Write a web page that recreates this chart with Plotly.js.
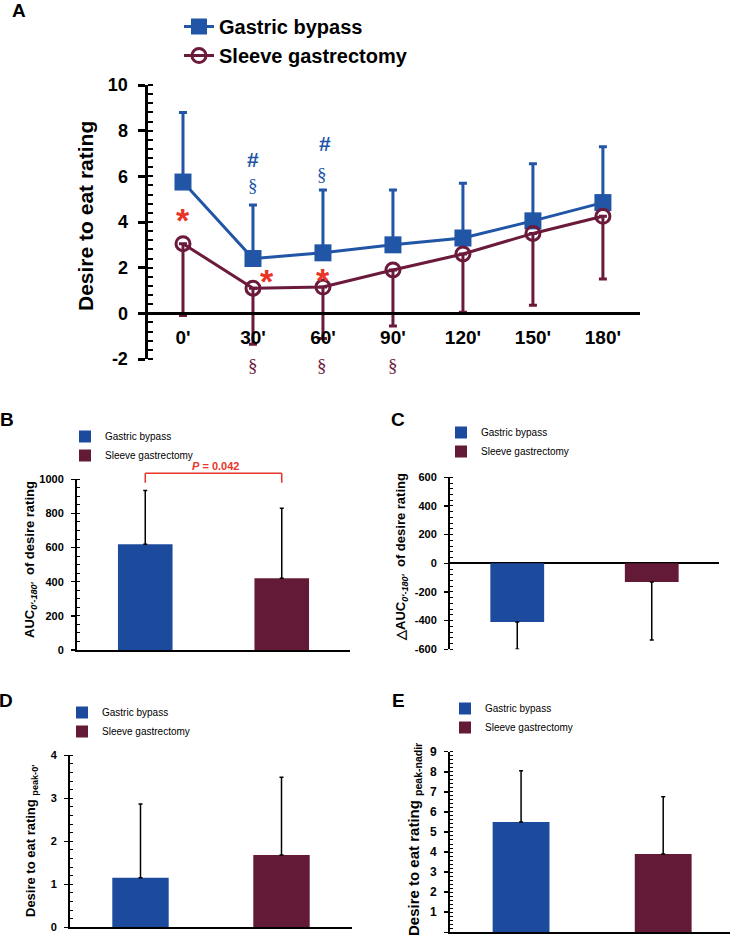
<!DOCTYPE html>
<html><head><meta charset="utf-8">
<script src="https://cdn.plot.ly/plotly-3.0.1.min.js"></script>
<style>html,body{margin:0;padding:0;background:#fff}#chart{width:736px;height:938px}</style>
</head><body><div id="chart"></div>
<script>
// ---- Panel A: desire to eat rating over time ----
const timeLabels = ["0'", "30'", "60'", "90'", "120'", "150'", "180'"];
const gbMean = [5.75, 2.4, 2.65, 3.0, 3.3, 4.05, 4.85];
const gbSD   = [3.05, 2.35, 2.75, 2.4, 2.4, 2.5, 2.45];
const sgMean = [3.05, 1.1, 1.15, 1.9, 2.6, 3.5, 4.25];
const sgSD   = [3.15, 2.45, 2.25, 2.45, 2.55, 3.15, 2.75];
const aTickVals = [-2, 0, 2, 4, 6, 8, 10];
const aTickText = ["-2", "0", "2", "4", "6", "8", "10"];

// ---- Panels B-E: group summaries ----
const groups = ["Gastric bypass", "Sleeve gastrectomy"];
const aucMean = [620, 420];          const aucSD = [315, 410];
const dAucMean = [-410, -130];       const dAucSD = [190, 405];
const cTickVals = [-600, -400, -200, 0, 200, 400, 600];
const cTickText = ["-600", "-400", "-200", "0", "200", "400", "600"];
const peak0Mean = [1.15, 1.68];      const peak0SD = [1.72, 1.81];
const peakNadirMean = [5.5, 3.9];    const peakNadirSD = [2.55, 2.85];
const pValueText = "<i>P</i> = 0.042";

const W = 736, H = 938;
const X = px => px / W;
const Y = py => 1 - py / H;
const FONT = 'Arial, "Liberation Sans", sans-serif';
const SERIF = '"Liberation Serif", "Times New Roman", serif';
const BLUE = '#2155a6', MAROON = '#6b1a3c';
const BAR_BLUE = '#1c4b9d', BAR_MAROON = '#621a36';
const RED = '#e8352a';

const traces = [];
traces.push({
  type: 'scatter', mode: 'lines+markers', x: timeLabels, y: gbMean, name: groups[0],
  xaxis: 'x', yaxis: 'y', legend: 'legend', cliponaxis: false,
  line: {color: BLUE, width: 3},
  marker: {symbol: 'square', size: 17, color: BLUE},
  error_y: {type: 'data', symmetric: false, array: gbSD, arrayminus: gbSD.map(() => 0),
            color: BLUE, thickness: 3, width: 4}
});
traces.push({
  type: 'scatter', mode: 'lines+markers', x: timeLabels, y: sgMean, name: groups[1],
  xaxis: 'x', yaxis: 'y', legend: 'legend', cliponaxis: false,
  line: {color: MAROON, width: 3},
  marker: {symbol: 'circle-open', size: 14, color: MAROON, line: {width: 3, color: MAROON}},
  error_y: {type: 'data', symmetric: false, array: sgSD.map(() => 0), arrayminus: sgSD,
            color: MAROON, thickness: 3, width: 4}
});

function addBars(mean, sd, idx, down) {
  const colors = [BAR_BLUE, BAR_MAROON];
  for (let i = 0; i < 2; i++) {
    traces.push({
      type: 'bar', x: [groups[i]], y: [mean[i]], name: groups[i], width: 0.4,
      xaxis: 'x' + idx, yaxis: 'y' + idx, legend: 'legend' + idx,
      marker: {color: colors[i], line: {width: 0}},
      error_y: {type: 'data', symmetric: false,
                array: down ? [0] : [sd[i]], arrayminus: down ? [sd[i]] : [0],
                color: 'black', thickness: 1.5, width: 2}
    });
  }
}
addBars(aucMean, aucSD, 2, false);
addBars(dAucMean, dAucSD, 3, true);
addBars(peak0Mean, peak0SD, 4, false);
addBars(peakNadirMean, peakNadirSD, 5, false);

function yAx(domain, range, dtick, minor, size, lw, anchor) {
  return {
    domain, range, dtick, tick0: 0, anchor, showline: true, linewidth: lw, linecolor: 'black',
    ticks: 'outside', ticklen: lw > 2 ? 7 : 4, tickwidth: lw > 2 ? 3 : 1.5, tickcolor: 'black',
    ticklabelstandoff: lw > 2 ? 6 : 5,
    minor: {dtick: minor, tick0: 0, ticks: 'inside', ticklen: lw > 2 ? 5 : 3, tickwidth: lw > 2 ? 2 : 1, tickcolor: 'black'},
    tickfont: {family: FONT, size, color: 'black', weight: 'bold'},
    showgrid: false, zeroline: false, fixedrange: true
  };
}
function xAx(domain, range, anchor, showline) {
  return {domain, range, anchor, type: 'category', showline, linewidth: 2, linecolor: 'black',
          ticks: '', showticklabels: false, showgrid: false, zeroline: false, fixedrange: true};
}

const legFont = {family: FONT, size: 10, color: 'black'};
const yA = yAx([Y(359), Y(85)], [-2, 10], 2, 0.4, 18, 3.5, 'x');
Object.assign(yA, {tickmode: 'array', tickvals: aTickVals, ticktext: aTickText});
const yC = yAx([Y(649.3), Y(477.3)], [-600, 600], 200, 40, 11, 2, 'x3');
Object.assign(yC, {tickmode: 'array', tickvals: cTickVals, ticktext: cTickText,
                   zeroline: true, zerolinewidth: 2, zerolinecolor: 'black'});

const layout = {
  width: W, height: H, margin: {l: 0, r: 0, t: 0, b: 0},
  paper_bgcolor: 'white', plot_bgcolor: 'rgba(0,0,0,0)',
  showlegend: true, barmode: 'overlay', hovermode: false,
  xaxis: {domain: [X(148), X(640)], range: [-0.5, 6.53], type: 'category',
          anchor: 'free', position: Y(313), showline: true, linewidth: 3, linecolor: 'black',
          ticks: 'outside', ticklen: 6, tickcolor: 'rgba(0,0,0,0)',
          tickfont: {family: FONT, size: 19, color: 'black', weight: 'bold'},
          showgrid: false, zeroline: false, fixedrange: true},
  yaxis: yA,
  xaxis2: xAx([X(77), X(350)], [-0.5, 1.5], 'y2', true),
  yaxis2: yAx([Y(650), Y(479.3)], [0, 1000], 200, 50, 11, 2, 'x2'),
  xaxis3: xAx([X(450), X(719)], [-0.5, 1.5], 'y3', false),
  yaxis3: yC,
  xaxis4: xAx([X(70), X(352)], [-0.5, 1.5], 'y4', true),
  yaxis4: yAx([Y(927.3), Y(755.3)], [0, 4], 1, 0.2, 11, 2, 'x4'),
  xaxis5: xAx([X(450), X(730)], [-0.5, 1.47], 'y5', true),
  yaxis5: yAx([Y(932.3), Y(751.7)], [0, 9], 1, 0.2, 12, 2, 'x5'),
  legend: {x: X(179), y: Y(7), xanchor: 'left', yanchor: 'top', bgcolor: 'rgba(0,0,0,0)',
           font: {family: FONT, size: 20, color: 'black', weight: 'bold'}, tracegroupgap: 0},
  legend2: {x: X(65), y: Y(422), xanchor: 'left', yanchor: 'top', bgcolor: 'rgba(0,0,0,0)', font: legFont},
  legend3: {x: X(441), y: Y(418), xanchor: 'left', yanchor: 'top', bgcolor: 'rgba(0,0,0,0)', font: legFont},
  legend4: {x: X(62), y: Y(698), xanchor: 'left', yanchor: 'top', bgcolor: 'rgba(0,0,0,0)', font: legFont},
  legend5: {x: X(445), y: Y(694), xanchor: 'left', yanchor: 'top', bgcolor: 'rgba(0,0,0,0)', font: legFont},
  shapes: [
    {type: 'line', xref: 'x2', yref: 'paper', x0: groups[0], x1: groups[0], y0: Y(482.7), y1: Y(473.3), line: {color: RED, width: 1.5}},
    {type: 'line', xref: 'x2', yref: 'paper', x0: groups[0], x1: groups[1], y0: Y(473.3), y1: Y(473.3), line: {color: RED, width: 1.5}},
    {type: 'line', xref: 'x2', yref: 'paper', x0: groups[1], x1: groups[1], y0: Y(482.7), y1: Y(473.3), line: {color: RED, width: 1.5}}
  ],
  annotations: []
};

const ann = layout.annotations;
const bold = (size, color, family) => ({family: family || FONT, size, color: color || 'black', weight: 'bold'});
// panel letters
[['A', 19, 10], ['B', 7, 420], ['C', 398, 419], ['D', 6, 700], ['E', 398, 700]].forEach(([t, x, y]) => {
  ann.push({text: t, xref: 'paper', yref: 'paper', x: X(x), y: Y(y), xanchor: 'center', yanchor: 'middle',
            showarrow: false, font: bold(19)});
});
// y-axis titles
[["Desire to eat rating", 85, 216, 21],
 ["AUC<sub><i>0'-180'</i></sub>  of desire rating", 30, 560, 13],
 ["\u25B3AUC<sub><i>0'-180'</i></sub>  of desire rating", 401, 557, 13],
 ["Desire to eat rating <sub>peak-0'</sub>", 31, 841, 13],
 ["Desire to eat rating <sub>peak-nadir</sub>", 414, 840, 15]].forEach(([t, x, y, s]) => {
  ann.push({text: t, xref: 'paper', yref: 'paper', x: X(x), y: Y(y), xanchor: 'center', yanchor: 'middle',
            textangle: -90, showarrow: false, font: bold(s)});
});
// significance markers in panel A
[[0, 4.1], [1.2, 1.4], [2.0, 1.48]].forEach(([x, y]) => {
  ann.push({text: '*', xref: 'x', yref: 'y', x, y, showarrow: false, font: bold(34, RED)});
});
[[1.0, 6.75], [2.03, 7.45]].forEach(([x, y]) => {
  ann.push({text: '#', xref: 'x', yref: 'y', x, y, showarrow: false, font: bold(21, BLUE)});
});
[[1.0, 5.6], [1.99, 6.1]].forEach(([x, y]) => {
  ann.push({text: '\u00A7', xref: 'x', yref: 'y', x, y, showarrow: false, font: {family: SERIF, size: 19, color: BLUE}});
});
[1.0, 1.99, 3.0].forEach(x => {
  ann.push({text: '\u00A7', xref: 'x', yref: 'paper', x, y: Y(365), showarrow: false, font: {family: SERIF, size: 19, color: MAROON}});
});
// p-value
ann.push({text: pValueText, xref: 'x2', yref: 'paper', x: 0.515, y: Y(466), showarrow: false, font: bold(11, RED)});

Plotly.newPlot('chart', traces, layout, {displayModeBar: false, staticPlot: true});
</script>
</body></html>
